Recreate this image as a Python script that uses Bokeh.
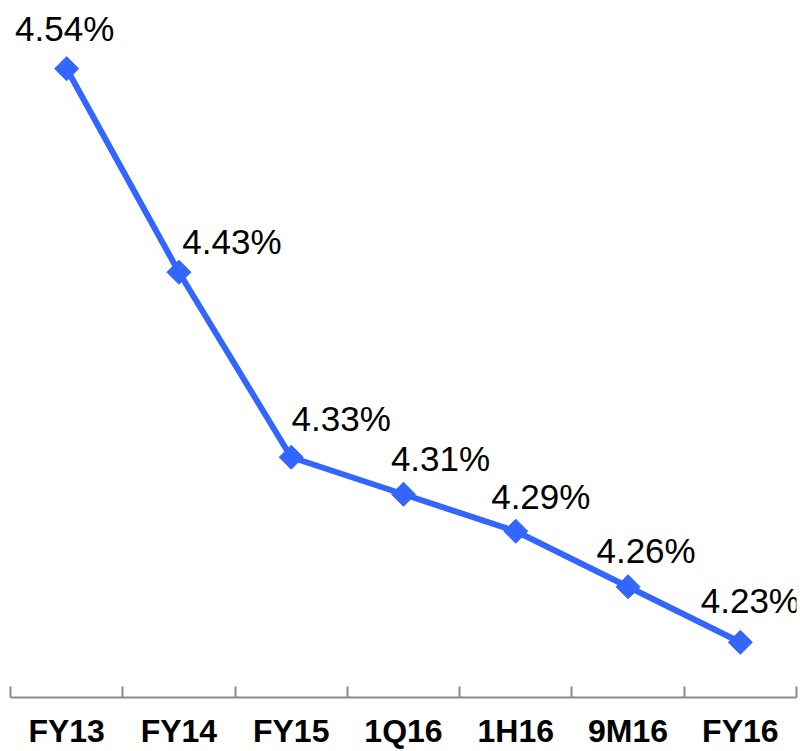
import math
from bokeh.plotting import figure
from bokeh.models import ColumnDataSource, Range1d, LinearAxis, FixedTicker
from bokeh.core.properties import value
from bokeh.embed import file_html
from bokeh.resources import INLINE

# ---- data ----
categories = ["FY13", "FY14", "FY15", "1Q16", "1H16", "9M16", "FY16"]
values = [4.54, 4.43, 4.33, 4.31, 4.29, 4.26, 4.23]
labels = ["4.54%", "4.43%", "4.33%", "4.31%", "4.29%", "4.26%", "4.23%"]

# ---- style: label offsets in px (screen) ----
label_dx = [-2, 53, 50, 37, 25, 18, 10]
label_dy = [-40, -31, -39, -36, -35, -36, -42]

xs = [i + 0.5 for i in range(len(categories))]

src = ColumnDataSource(dict(x=xs, y=values, lab=labels, dx=label_dx, dy=label_dy))

BLUE = "#3366FF"

FRAME_H = 695
PX_PER_UNIT = 1845.0
y_top = 4.54 + 68 / PX_PER_UNIT
y_bot = 4.54 - (FRAME_H - 68) / PX_PER_UNIT

p = figure(width=800, height=751, output_backend="svg", toolbar_location=None,
           x_range=Range1d(0, len(categories)), y_range=Range1d(y_bot, y_top),
           min_border_left=10, min_border_right=4, min_border_top=0, min_border_bottom=0,
           x_axis_location=None, y_axis_location=None)
p.outline_line_color = None
p.grid.visible = False
p.background_fill_color = "white"
p.border_fill_color = "white"

p.line("x", "y", source=src, line_color=BLUE, line_width=6)
p.scatter("x", "y", source=src, marker="square", size=17, angle=math.pi / 4,
          fill_color=BLUE, line_color=BLUE)
p.text("x", "y", text="lab", source=src, x_offset="dx", y_offset="dy",
       text_align="center", text_baseline="alphabetic",
       text_font=value("Liberation Sans"), text_font_size="35px", text_color="black")

ax = LinearAxis()
ax.ticker = FixedTicker(ticks=xs, minor_ticks=list(range(len(categories) + 1)))
ax.major_label_overrides = {x: c for x, c in zip(xs, categories)}
ax.major_tick_in = 0
ax.major_tick_out = 0
ax.minor_tick_in = 11
ax.minor_tick_out = 0
ax.minor_tick_line_color = "#8c8c8c"
ax.minor_tick_line_width = 2
ax.axis_line_color = "#8c8c8c"
ax.axis_line_width = 2
ax.major_label_standoff = 15
ax.major_label_text_line_height = 1.0
ax.major_label_text_baseline = "alphabetic"
ax.major_label_text_font = "Liberation Sans"
ax.major_label_text_font_style = "bold"
ax.major_label_text_font_size = "32px"
ax.major_label_text_color = "black"
p.add_layout(ax, "below")

open("out.html", "w").write(file_html(p, INLINE))
